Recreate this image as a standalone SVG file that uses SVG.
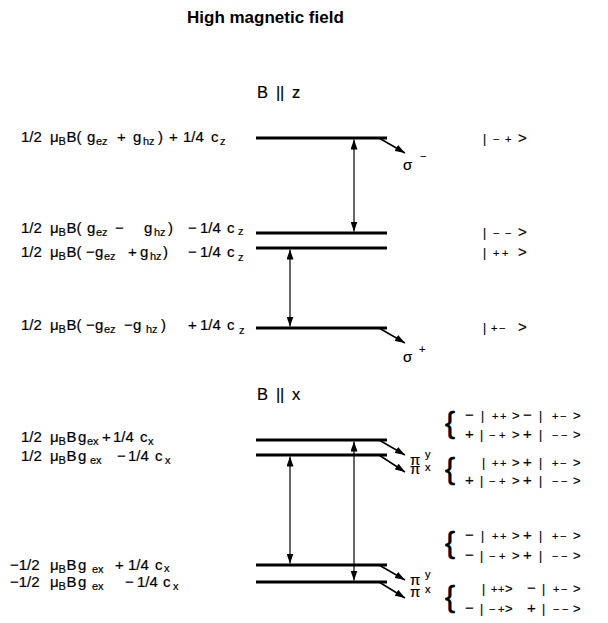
<svg xmlns="http://www.w3.org/2000/svg" width="608" height="623" viewBox="0 0 608 623">
<style>
.t{font-family:"Liberation Sans",Arial,Helvetica,sans-serif;font-size:15px;fill:#000;stroke:#000;stroke-width:0.2}
.s{font-size:11px}
.m{font-size:11px}
.b{font-size:15px}
.bar{font-size:12px}
.gt{font-size:13px}
.gk{font-size:15px}
.br{font-size:30px;stroke-width:0.6}
.hd{font-size:16.5px}
.title{font-family:"Liberation Sans",Arial,Helvetica,sans-serif;font-size:17px;font-weight:bold;fill:#000}
.lvl{stroke:#000;stroke-width:3;fill:none}
.arr{stroke:#000;stroke-width:1.2;fill:none}
.em{stroke:#000;stroke-width:1.5;fill:none}
</style>
<defs>
<marker id="ah" markerUnits="userSpaceOnUse" markerWidth="10" markerHeight="7" refX="10" refY="3.5" orient="auto-start-reverse">
<path d="M0,0 L10,3.5 L0,7 z" fill="#000"/>
</marker>
</defs>
<rect width="608" height="623" fill="#fff"/>

<text class="title" x="187" y="23">High magnetic field</text>
<text class="t hd" y="98"><tspan x="257">B</tspan><tspan x="276">|</tspan><tspan x="280">|</tspan><tspan x="292">z</tspan></text>
<text class="t hd" y="400"><tspan x="257">B</tspan><tspan x="276">|</tspan><tspan x="280">|</tspan><tspan x="292">x</tspan></text>

<!-- B || z levels -->
<g id="z1">
<line class="lvl" x1="256" y1="138" x2="387" y2="138"/>
<text class="t" y="142"><tspan x="21">1/2</tspan><tspan x="50">μ</tspan><tspan class="s" x="58.5" y="145">B</tspan><tspan x="66.5" y="142">B(</tspan><tspan x="87">g</tspan><tspan class="s" x="96" y="145">ez</tspan><tspan x="117" y="142">+</tspan><tspan x="133">g</tspan><tspan class="s" x="143" y="145">hz</tspan><tspan x="158" y="142">)</tspan><tspan x="169">+</tspan><tspan x="183">1/4</tspan><tspan x="211">c</tspan><tspan class="s" x="220" y="145">z</tspan></text>
<text class="t" y="143"><tspan class="bar" x="483">|</tspan><tspan class="m" x="493">−</tspan><tspan class="m" x="505">+</tspan><tspan class="gk" x="518">&gt;</tspan></text>
</g>
<g id="z2">
<line class="lvl" x1="256" y1="233" x2="387" y2="233"/>
<text class="t" y="233"><tspan x="21">1/2</tspan><tspan x="50">μ</tspan><tspan class="s" x="58.5" y="236">B</tspan><tspan x="66.5" y="233">B(</tspan><tspan x="87">g</tspan><tspan class="s" x="96" y="236">ez</tspan><tspan x="115" y="233">−</tspan><tspan x="144">g</tspan><tspan class="s" x="154" y="236">hz</tspan><tspan x="168" y="233">)</tspan><tspan x="188">−</tspan><tspan x="200">1/4</tspan><tspan x="227">c</tspan><tspan class="s" x="238" y="235">z</tspan></text>
<text class="t" y="237"><tspan class="bar" x="483">|</tspan><tspan class="m" x="493">−</tspan><tspan class="m" x="505">−</tspan><tspan class="gk" x="518">&gt;</tspan></text>
</g>
<g id="z3">
<line class="lvl" x1="256" y1="248" x2="387" y2="248"/>
<text class="t" y="257"><tspan x="21">1/2</tspan><tspan x="50">μ</tspan><tspan class="s" x="58.5" y="260">B</tspan><tspan x="66.5" y="257">B(</tspan><tspan x="86">−</tspan><tspan x="95">g</tspan><tspan class="s" x="104" y="260">ez</tspan><tspan x="128" y="257">+</tspan><tspan x="140">g</tspan><tspan class="s" x="150" y="260">hz</tspan><tspan x="163" y="257">)</tspan><tspan x="188">−</tspan><tspan x="200">1/4</tspan><tspan x="227">c</tspan><tspan class="s" x="238" y="261">z</tspan></text>
<text class="t" y="257"><tspan class="bar" x="483">|</tspan><tspan class="m" x="493">+</tspan><tspan class="m" x="502">+</tspan><tspan class="gk" x="518">&gt;</tspan></text>
</g>
<g id="z4">
<line class="lvl" x1="256" y1="328" x2="387" y2="328"/>
<text class="t" y="330"><tspan x="21">1/2</tspan><tspan x="50">μ</tspan><tspan class="s" x="58.5" y="333">B</tspan><tspan x="66.5" y="330">B(</tspan><tspan x="86">−</tspan><tspan x="95">g</tspan><tspan class="s" x="104" y="333">ez</tspan><tspan x="124" y="330">−</tspan><tspan x="133">g</tspan><tspan class="s" x="146" y="333">hz</tspan><tspan x="161" y="330">)</tspan><tspan x="188">+</tspan><tspan x="200">1/4</tspan><tspan x="227">c</tspan><tspan class="s" x="239" y="334">z</tspan></text>
<text class="t" y="332"><tspan class="bar" x="483">|</tspan><tspan class="m" x="491">+</tspan><tspan class="m" x="499">−</tspan><tspan class="gk" x="518">&gt;</tspan></text>
</g>
<g id="sigma-minus">
<text class="t" x="403" y="170">σ</text>
<text class="t s" x="420" y="160">−</text>
</g>
<g id="sigma-plus">
<text class="t" x="403" y="362">σ</text>
<text class="t s" x="419" y="353">+</text>
</g>

<!-- B || x levels -->
<g id="x1">
<line class="lvl" x1="256" y1="440" x2="387" y2="440"/>
<text class="t" y="442"><tspan x="21">1/2</tspan><tspan x="50">μ</tspan><tspan class="s" x="58.5" y="445">B</tspan><tspan x="66.5" y="442">B</tspan><tspan x="78">g</tspan><tspan class="s" x="87" y="445">ex</tspan><tspan x="102" y="442">+</tspan><tspan x="113">1/4</tspan><tspan x="140">c</tspan><tspan class="s" x="148" y="445">x</tspan></text>
</g>
<g id="x2">
<line class="lvl" x1="256" y1="455" x2="387" y2="455"/>
<text class="t" y="461"><tspan x="21">1/2</tspan><tspan x="50">μ</tspan><tspan class="s" x="58.5" y="464">B</tspan><tspan x="66.5" y="461">B</tspan><tspan x="78">g</tspan><tspan class="s" x="90" y="464">ex</tspan><tspan x="117" y="461">−</tspan><tspan x="128">1/4</tspan><tspan x="155">c</tspan><tspan class="s" x="165" y="464">x</tspan></text>
</g>
<g id="x3">
<line class="lvl" x1="256" y1="565" x2="387" y2="565"/>
<text class="t" y="570"><tspan x="10">−1/2</tspan><tspan x="50">μ</tspan><tspan class="s" x="58.5" y="573">B</tspan><tspan x="66.5" y="570">B</tspan><tspan x="78">g</tspan><tspan class="s" x="92" y="573">ex</tspan><tspan x="115" y="570">+</tspan><tspan x="128">1/4</tspan><tspan x="155">c</tspan><tspan class="s" x="164" y="572">x</tspan></text>
</g>
<g id="x4">
<line class="lvl" x1="256" y1="582" x2="387" y2="582"/>
<text class="t" y="587"><tspan x="10">−1/2</tspan><tspan x="50">μ</tspan><tspan class="s" x="58.5" y="590">B</tspan><tspan x="66.5" y="587">B</tspan><tspan x="78">g</tspan><tspan class="s" x="92" y="590">ex</tspan><tspan x="125" y="587">−</tspan><tspan x="137">1/4</tspan><tspan x="163">c</tspan><tspan class="s" x="173" y="590">x</tspan></text>
</g>
<g id="pi-upper">
<text class="t" x="410" y="465">π</text><text class="t s" x="425" y="458">y</text>
<text class="t" x="410" y="474">π</text><text class="t s" x="425" y="471">x</text>
</g>
<g id="pi-lower">
<text class="t" x="410" y="585">π</text><text class="t s" x="425" y="578">y</text>
<text class="t" x="410" y="597">π</text><text class="t s" x="425" y="593">x</text>
</g>

<!-- state combinations -->
<g id="states1">
<text class="t br" x="445" y="433">{</text>
<text class="t" y="420"><tspan class="b" x="465">−</tspan><tspan class="bar" x="481">|</tspan><tspan class="m" x="492">+</tspan><tspan class="m" x="500">+</tspan><tspan class="gt" x="512">&gt;</tspan><tspan class="b" x="523">−</tspan><tspan class="bar" x="539">|</tspan><tspan class="m" x="552">+</tspan><tspan class="m" x="560">−</tspan><tspan class="gt" x="573">&gt;</tspan></text>
<text class="t" y="439"><tspan class="b" x="465">+</tspan><tspan class="bar" x="480">|</tspan><tspan class="m" x="489">−</tspan><tspan class="m" x="499">+</tspan><tspan class="gt" x="512">&gt;</tspan><tspan class="b" x="523">+</tspan><tspan class="bar" x="539">|</tspan><tspan class="m" x="552">−</tspan><tspan class="m" x="561">−</tspan><tspan class="gt" x="573">&gt;</tspan></text>
</g>
<g id="states2">
<text class="t br" x="445" y="479">{</text>
<text class="t" y="467"><tspan class="bar" x="482">|</tspan><tspan class="m" x="492">+</tspan><tspan class="m" x="500">+</tspan><tspan class="gt" x="512">&gt;</tspan><tspan class="b" x="523">+</tspan><tspan class="bar" x="539">|</tspan><tspan class="m" x="552">+</tspan><tspan class="m" x="560">−</tspan><tspan class="gt" x="573">&gt;</tspan></text>
<text class="t" y="485"><tspan class="b" x="465">+</tspan><tspan class="bar" x="480">|</tspan><tspan class="m" x="489">−</tspan><tspan class="m" x="499">+</tspan><tspan class="gt" x="512">&gt;</tspan><tspan class="b" x="523">+</tspan><tspan class="bar" x="539">|</tspan><tspan class="m" x="552">−</tspan><tspan class="m" x="561">−</tspan><tspan class="gt" x="573">&gt;</tspan></text>
</g>
<g id="states3">
<text class="t br" x="445" y="553">{</text>
<text class="t" y="540"><tspan class="b" x="465">−</tspan><tspan class="bar" x="481">|</tspan><tspan class="m" x="492">+</tspan><tspan class="m" x="500">+</tspan><tspan class="gt" x="512">&gt;</tspan><tspan class="b" x="523">+</tspan><tspan class="bar" x="539">|</tspan><tspan class="m" x="552">+</tspan><tspan class="m" x="560">−</tspan><tspan class="gt" x="573">&gt;</tspan></text>
<text class="t" y="560"><tspan class="b" x="465">−</tspan><tspan class="bar" x="480">|</tspan><tspan class="m" x="489">−</tspan><tspan class="m" x="499">+</tspan><tspan class="gt" x="512">&gt;</tspan><tspan class="b" x="523">+</tspan><tspan class="bar" x="539">|</tspan><tspan class="m" x="552">−</tspan><tspan class="m" x="561">−</tspan><tspan class="gt" x="573">&gt;</tspan></text>
</g>
<g id="states4">
<text class="t br" x="445" y="607">{</text>
<text class="t" y="593"><tspan class="bar" x="482">|</tspan><tspan class="m" x="491">+</tspan><tspan class="m" x="498">+</tspan><tspan class="gt" x="505">&gt;</tspan><tspan class="b" x="527">−</tspan><tspan class="bar" x="542">|</tspan><tspan class="m" x="553">+</tspan><tspan class="m" x="561">−</tspan><tspan class="gt" x="573">&gt;</tspan></text>
<text class="t" y="613"><tspan class="b" x="465">−</tspan><tspan class="bar" x="480">|</tspan><tspan class="m" x="489">−</tspan><tspan class="m" x="498">+</tspan><tspan class="gt" x="505">&gt;</tspan><tspan class="b" x="527">+</tspan><tspan class="bar" x="542">|</tspan><tspan class="m" x="553">−</tspan><tspan class="m" x="562">−</tspan><tspan class="gt" x="573">&gt;</tspan></text>
</g>

<!-- connectors -->
<g id="connectors">
<line class="arr" x1="354" y1="139.5" x2="354" y2="231.5" marker-start="url(#ah)" marker-end="url(#ah)"/>
<line class="arr" x1="290" y1="249.5" x2="290" y2="326.5" marker-start="url(#ah)" marker-end="url(#ah)"/>
<line class="em" x1="379" y1="138" x2="405" y2="153" marker-end="url(#ah)"/>
<line class="em" x1="379" y1="328" x2="405" y2="343" marker-end="url(#ah)"/>
<line class="arr" x1="290" y1="456.5" x2="290" y2="563.5" marker-start="url(#ah)" marker-end="url(#ah)"/>
<line class="arr" x1="354" y1="441.5" x2="354" y2="580.5" marker-start="url(#ah)" marker-end="url(#ah)"/>
<line class="em" x1="379" y1="440" x2="405" y2="455" marker-end="url(#ah)"/>
<line class="em" x1="379" y1="455" x2="405" y2="472" marker-end="url(#ah)"/>
<line class="em" x1="379" y1="565" x2="405" y2="580" marker-end="url(#ah)"/>
<line class="em" x1="379" y1="582" x2="405" y2="598" marker-end="url(#ah)"/>
</g>
</svg>
